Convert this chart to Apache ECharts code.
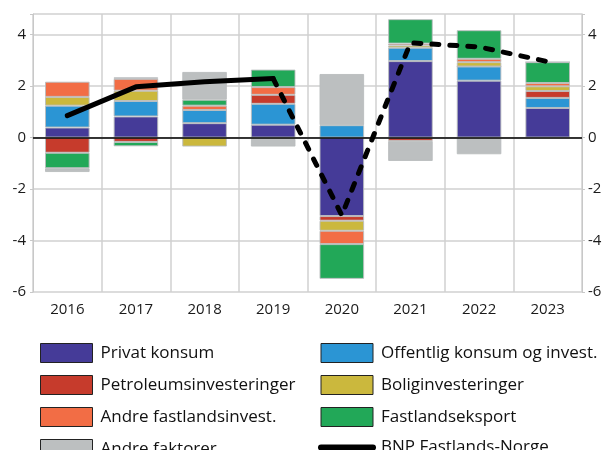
<!DOCTYPE html>
<html>
<head>
<meta charset="utf-8">
<script src="https://cdn.jsdelivr.net/npm/echarts@6/dist/echarts.min.js"></script>
<style>
html, body { margin: 0; padding: 0; background: #fff; }
#chart { width: 613px; height: 450px; }
</style>
</head>
<body>
<div id="chart"></div>
<script>
// data (percentage points)
const years = ['2016', '2017', '2018', '2019', '2020', '2021', '2022', '2023'];
const privatKonsum = [0.39, 0.82, 0.56, 0.50, -3.05, 2.97, 2.21, 1.15];
const offentlig = [0.85, 0.60, 0.51, 0.81, 0.48, 0.52, 0.55, 0.39];
const petroleum = [-0.59, -0.17, 0, 0.35, -0.18, -0.13, 0, 0.27];
const bolig = [0.34, 0.40, -0.35, -0.05, -0.39, 0.09, 0.17, 0.18];
const andreFastland = [0.59, 0.46, 0.17, 0.30, -0.52, 0.07, 0.13, 0.13];
const eksport = [-0.60, -0.17, 0.23, 0.68, -1.35, 0.95, 1.11, 0.81];
const andreFaktorer = [-0.15, 0.06, 1.08, -0.30, 1.99, -0.78, -0.65, 0];
// BNP: faktisk (heltrukken) og anslag (stiplet)
const bnpFaktisk = [0.85, 1.97, 2.17, 2.29, null, null, null, null];
const bnpAnslag = [null, null, null, 2.29, -3.02, 3.68, 3.52, 2.95];
const yTicks = [-6, -4, -2, 0, 2, 4];

const font = 'Open Sans';
const chart = echarts.init(document.getElementById('chart'));

function bar(name, data, color) {
    return {
        name: name,
        type: 'bar',
        stack: 'bidrag',
        data: data,
        barWidth: '65%',
        itemStyle: {
            color: color,
            borderColor: 'rgba(185,188,190,0.9)',
            borderWidth: 1
        }
    };
}

function rectItem(name) {
    return { name: name, icon: 'rect' };
}

const yLabel = {
    fontFamily: font,
    fontSize: 15,
    color: '#1a1a1a',
    formatter: function (v) {
        return yTicks.indexOf(v) >= 0 ? String(v) : '';
    }
};

const legendBase = {
    orient: 'vertical', top: 338, height: 140, padding: 5,
    itemWidth: 52, itemHeight: 19, itemGap: 12,
    itemStyle: { borderColor: '#222', borderWidth: 1 },
    textStyle: { fontFamily: font, fontSize: 17, color: '#111', padding: [0, 0, 0, 3] }
};

const option = {
    backgroundColor: '#fff',
    animation: false,
    grid: { left: 33, right: 31, top: 14, bottom: 158 },
    legend: [
        Object.assign({}, legendBase, {
            left: 35,
            data: ['Privat konsum', 'Petroleumsinvesteringer', 'Andre fastlandsinvest.', 'Andre faktorer'].map(rectItem)
        }),
        Object.assign({}, legendBase, {
            left: 313,
            data: ['Offentlig konsum og invest.', 'Boliginvesteringer', 'Fastlandseksport'].map(rectItem)
                .concat([{
                    name: 'BNP Fastlands-Norge',
                    itemStyle: { opacity: 0, borderWidth: 0 },
                    lineStyle: { color: '#000', width: 6, cap: 'round', type: 'solid', opacity: 1 }
                }])
        })
    ],
    xAxis: {
        type: 'category',
        data: years,
        axisLine: { show: true, lineStyle: { color: '#c8c8c8' } },
        axisTick: { show: false },
        splitLine: { show: true, lineStyle: { color: '#d0d0d0', width: 1.5 } },
        axisLabel: { fontFamily: font, fontSize: 15, color: '#1a1a1a', margin: 10 }
    },
    yAxis: [
        {
            type: 'value', min: -6, max: 4.8, interval: 2,
            axisLine: { show: true, lineStyle: { color: '#c8c8c8' } },
            axisTick: { show: true, length: 3, lineStyle: { color: '#c8c8c8' } },
            splitLine: { show: true, lineStyle: { color: '#d0d0d0', width: 1.5 } },
            axisLabel: Object.assign({ margin: 7 }, yLabel)
        },
        {
            type: 'value', min: -6, max: 4.8, interval: 2, position: 'right',
            axisLine: { show: true, lineStyle: { color: '#c8c8c8' } },
            axisTick: { show: true, length: 3, lineStyle: { color: '#c8c8c8' } },
            splitLine: { show: false },
            axisLabel: Object.assign({ margin: 6 }, yLabel)
        }
    ],
    series: [
        bar('Privat konsum', privatKonsum, '#453b98'),
        bar('Offentlig konsum og invest.', offentlig, '#2b95d4'),
        bar('Petroleumsinvesteringer', petroleum, '#c63b2c'),
        bar('Boliginvesteringer', bolig, '#cbb83d'),
        bar('Andre fastlandsinvest.', andreFastland, '#f26d45'),
        bar('Fastlandseksport', eksport, '#22a858'),
        bar('Andre faktorer', andreFaktorer, '#bcbfc0'),
        {
            name: 'BNP Fastlands-Norge',
            type: 'line',
            data: bnpFaktisk,
            symbol: 'none',
            z: 5,
            lineStyle: { color: '#000', width: 5, cap: 'round', join: 'round' },
            markLine: {
                silent: true,
                symbol: 'none',
                label: { show: false },
                lineStyle: { color: '#000', width: 1.5, type: 'solid' },
                data: [{ yAxis: 0 }]
            }
        },
        {
            name: 'BNP Fastlands-Norge',
            type: 'line',
            data: bnpAnslag,
            symbol: 'none',
            z: 5,
            lineStyle: { color: '#000', width: 5, type: [7, 11], cap: 'round', join: 'round' }
        }
    ]
};

chart.setOption(option);
</script>
</body>
</html>
